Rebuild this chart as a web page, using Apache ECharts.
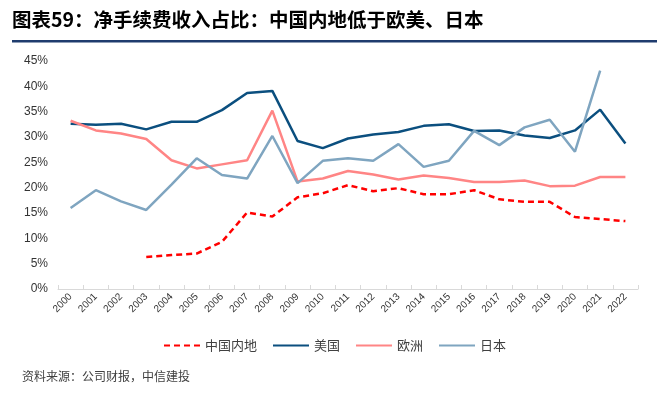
<!DOCTYPE html>
<html>
<head>
<meta charset="utf-8">
<script src="https://cdn.jsdelivr.net/npm/echarts@6/dist/echarts.min.js"></script>
<style>
html,body{margin:0;padding:0;background:#fff;}
#c{width:669px;height:394px;}
</style>
</head>
<body>
<div id="c"></div>
<script>
var years = ['2000','2001','2002','2003','2004','2005','2006','2007','2008','2009','2010','2011','2012','2013','2014','2015','2016','2017','2018','2019','2020','2021','2022'];
var china = [null,null,null,6.3,6.7,7.0,9.3,15.1,14.3,18.1,18.9,20.5,19.3,19.9,18.7,18.7,19.5,17.7,17.2,17.2,14.2,13.8,13.4];
var usa = [32.6,32.4,32.6,31.5,33.0,33.0,35.3,38.7,39.1,29.2,27.8,29.7,30.5,31.0,32.2,32.5,31.2,31.3,30.3,29.8,31.3,35.4,28.7];
var europe = [33.2,31.3,30.7,29.6,25.4,23.8,24.6,25.4,35.2,21.2,21.8,23.3,22.6,21.6,22.4,21.9,21.1,21.1,21.4,20.3,20.4,22.1,22.1];
var japan = [16.0,19.5,17.3,15.6,20.6,25.8,22.5,21.8,30.2,20.9,25.3,25.8,25.3,28.6,24.1,25.3,31.2,28.4,31.9,33.4,27.1,43.1,null];
var yTicks = {min:0, max:45, interval:5};
var names = ['中国内地','美国','欧洲','日本'];

var chart = echarts.init(document.getElementById('c'));
var font = '"Noto Sans CJK SC", "Noto Sans", sans-serif';
function mk(name, data, color, dashed){
  return {
    name:name, type:'line', data:data, symbol:'none', showSymbol:false,
    connectNulls:false,
    lineStyle:{color:color, width:2.5, type: dashed ? [6,4] : 'solid'},
    itemStyle:{color:color}
  };
}
chart.setOption({
  animation:false,
  textStyle:{fontFamily:font},
  graphic:[
    {type:'text', left:12, top:10, style:{text:'图表59：净手续费收入占比：中国内地低于欧美、日本', fontSize:19.5, fontWeight:'bold', fill:'#000', fontFamily:font}},
    {type:'rect', shape:{x:12, y:40, width:645, height:2.5}, style:{fill:'#1F3C6E'}},
    {type:'text', left:22, top:370, style:{text:'资料来源：公司财报，中信建投', fontSize:12, fill:'#404040', fontFamily:font}}
  ],
  grid:{left:58, right:31, top:61, bottom:105, containLabel:false},
  legend:{
    data:names, top:334, left:'center', itemWidth:36, itemHeight:10, itemGap:15,
    itemStyle:{color:'rgba(0,0,0,0)', borderColor:'rgba(0,0,0,0)', borderWidth:0, opacity:0},
    textStyle:{fontSize:13, color:'#404040', fontFamily:font}
  },
  xAxis:{
    type:'category', data:years, boundaryGap:true,
    axisLine:{lineStyle:{color:'#d9d9d9', width:1}},
    axisTick:{show:true, inside:true, length:4, lineStyle:{color:'#d9d9d9'}},
    axisLabel:{rotate:45, fontSize:10, color:'#333', interval:0, margin:6, fontFamily:'"Liberation Sans", sans-serif'},
    splitLine:{show:false}
  },
  yAxis:{
    type:'value', min:yTicks.min, max:yTicks.max, interval:yTicks.interval,
    axisLine:{show:false}, axisTick:{show:false}, splitLine:{show:false},
    axisLabel:{formatter:'{value}%', fontSize:12, color:'#333', margin:10, fontFamily:'"Liberation Sans", sans-serif'}
  },
  series:[
    mk(names[0], china, '#FF0000', true),
    mk(names[1], usa, '#0B4F7F', false),
    mk(names[2], europe, '#FF8585', false),
    mk(names[3], japan, '#7FA5C0', false)
  ]
});
</script>
</body>
</html>
